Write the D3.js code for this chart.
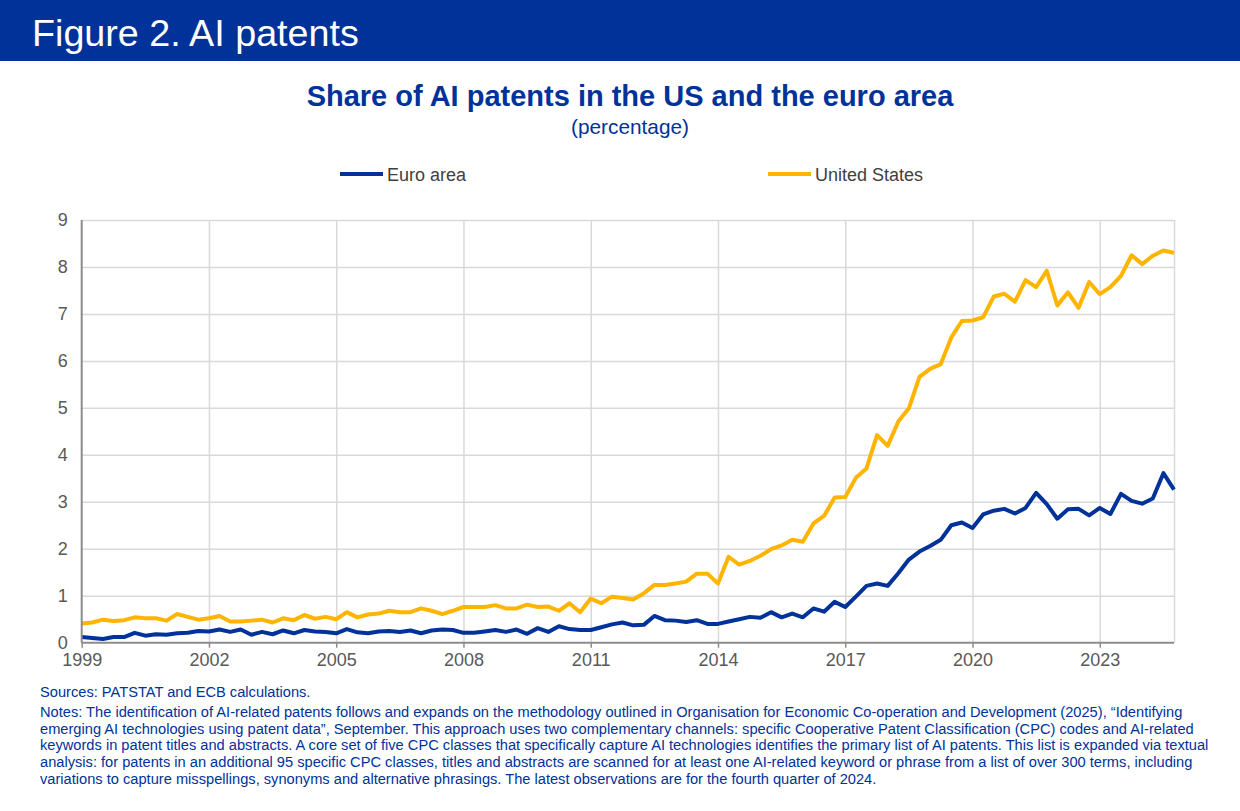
<!DOCTYPE html>
<html>
<head>
<meta charset="utf-8">
<script src="https://cdn.jsdelivr.net/npm/d3@7"></script>
<style>
  body { margin: 0; background: #fff; }
  svg { display: block; font-family: "Liberation Sans", Arial, sans-serif; }
</style>
</head>
<body>
<svg id="chart" width="1240" height="811"></svg>
<script>
"use strict";

// Quarterly observations, 1999 Q1 to 2024 Q4 (percentage)
var firstYear = 1999;
var euroArea = [
  0.12, 0.10, 0.08, 0.12,  0.12, 0.21, 0.15, 0.18,  0.17, 0.20, 0.21, 0.25,
  0.24, 0.28, 0.23, 0.28,  0.17, 0.23, 0.18, 0.26,  0.20, 0.27, 0.24, 0.23,
  0.20, 0.29, 0.22, 0.20,  0.24, 0.25, 0.23, 0.26,  0.20, 0.26, 0.28, 0.27,
  0.21, 0.21, 0.24, 0.27,  0.23, 0.28, 0.19, 0.31,  0.23, 0.35, 0.29, 0.27,
  0.27, 0.33, 0.39, 0.43,  0.37, 0.38, 0.57, 0.48,  0.47, 0.44, 0.48, 0.40,
  0.40, 0.45, 0.50, 0.55,  0.53, 0.65, 0.54, 0.62,  0.54, 0.73, 0.66, 0.87,
  0.76, 0.98, 1.21, 1.26,  1.21, 1.48, 1.77, 1.94,  2.06, 2.19, 2.50, 2.56,
  2.44, 2.73, 2.81, 2.85,  2.75, 2.87, 3.19, 2.95,  2.64, 2.84, 2.85, 2.71,
  2.87, 2.74, 3.17, 3.02,  2.96, 3.07, 3.61, 3.26
];
var unitedStates = [
  0.41, 0.43, 0.49, 0.46,  0.48, 0.54, 0.52, 0.52,  0.47, 0.61, 0.55, 0.49,
  0.52, 0.57, 0.45, 0.45,  0.47, 0.49, 0.43, 0.52,  0.48, 0.59, 0.51, 0.55,
  0.50, 0.65, 0.54, 0.60,  0.62, 0.68, 0.65, 0.65,  0.73, 0.68, 0.61, 0.68,
  0.76, 0.76, 0.76, 0.80,  0.73, 0.73, 0.81, 0.76,  0.77, 0.68, 0.84, 0.65,
  0.94, 0.84, 0.98, 0.95,  0.92, 1.05, 1.23, 1.23,  1.26, 1.30, 1.47, 1.47,
  1.26, 1.83, 1.66, 1.74,  1.85, 1.99, 2.07, 2.19,  2.15, 2.54, 2.70, 3.09,
  3.10, 3.51, 3.71, 4.42,  4.19, 4.71, 4.99, 5.66,  5.83, 5.93, 6.50, 6.85,
  6.86, 6.93, 7.37, 7.43,  7.26, 7.72, 7.57, 7.92,  7.18, 7.46, 7.13, 7.68,
  7.42, 7.57, 7.81, 8.25,  8.06, 8.24, 8.35, 8.30
];
var seriesNames = ["Euro area", "United States"];
var xTicks = [1999, 2002, 2005, 2008, 2011, 2014, 2017, 2020, 2023];
var yTicks = [0, 1, 2, 3, 4, 5, 6, 7, 8, 9];

var figureTitle = "Figure 2. AI patents";
var chartTitle = "Share of AI patents in the US and the euro area";
var chartUnit = "(percentage)";
var footLines = [
  "Sources: PATSTAT and ECB calculations.",
  "Notes: The identification of AI-related patents follows and expands on the methodology outlined in Organisation for Economic Co-operation and Development (2025), \u201cIdentifying",
  "emerging AI technologies using patent data\u201d, September. This approach uses two complementary channels: specific Cooperative Patent Classification (CPC) codes and AI-related",
  "keywords in patent titles and abstracts. A core set of five CPC classes that specifically capture AI technologies identifies the primary list of AI patents. This list is expanded via textual",
  "analysis: for patents in an additional 95 specific CPC classes, titles and abstracts are scanned for at least one AI-related keyword or phrase from a list of over 300 terms, including",
  "variations to capture misspellings, synonyms and alternative phrasings. The latest observations are for the fourth quarter of 2024."
];

var ecbBlue = "#003299";
var ecbYellow = "#ffb400";
var colors = [ecbBlue, ecbYellow];

var svg = d3.select("#chart");

// Bandeau du titre
svg.append("rect")
  .attr("x", 0).attr("y", 0)
  .attr("width", 1240).attr("height", 61)
  .attr("fill", ecbBlue);
svg.append("text")
  .attr("x", 32).attr("y", 46)
  .attr("fill", "white")
  .style("font-size", "37.7px")
  .text(figureTitle);

svg.append("text")
  .attr("x", 630).attr("y", 106)
  .attr("text-anchor", "middle")
  .attr("fill", ecbBlue)
  .style("font-size", "29px")
  .style("font-weight", "bold")
  .text(chartTitle);
svg.append("text")
  .attr("x", 630).attr("y", 134)
  .attr("text-anchor", "middle")
  .attr("fill", ecbBlue)
  .style("font-size", "20.8px")
  .text(chartUnit);

// Échelles
var plotLeft = 81.7, plotRight = 1174, plotTop = 220, plotBottom = 642.7;
var x = d3.scaleLinear().domain([1999, 2024.75]).range([plotLeft, plotRight]);
var y = d3.scaleLinear().domain([0, 9]).range([plotBottom, plotTop]);

// Grille
var grid = svg.append("g").attr("class", "grid");
grid.append("g")
  .attr("transform", "translate(" + plotLeft + ",0)")
  .call(d3.axisLeft(y).tickValues(yTicks.slice(1)).tickSize(-(plotRight - plotLeft)).tickFormat(""))
  .call(function (g) { g.select(".domain").remove(); });
grid.append("g")
  .attr("transform", "translate(0," + plotBottom + ")")
  .call(d3.axisBottom(x).tickValues(xTicks.slice(1).concat([2024.75])).tickSize(-(plotBottom - plotTop)).tickFormat(""))
  .call(function (g) { g.select(".domain").remove(); });
grid.selectAll("line")
  .attr("stroke", "#d9d9d9")
  .attr("stroke-width", 1.5);

// Séries
var lineGen = d3.line()
  .x(function (d, i) { return x(firstYear + i / 4); })
  .y(function (d) { return y(d); });

[euroArea, unitedStates].forEach(function (values, k) {
  svg.append("path")
    .datum(values)
    .attr("fill", "none")
    .attr("stroke", colors[k])
    .attr("stroke-width", 4)
    .attr("stroke-linejoin", "round")
    .attr("d", lineGen);
});

// Axes
var yAxis = svg.append("g")
  .attr("transform", "translate(" + plotLeft + ",0)")
  .call(d3.axisLeft(y).tickValues(yTicks).tickSize(0).tickPadding(14));
var xAxis = svg.append("g")
  .attr("transform", "translate(0," + plotBottom + ")")
  .call(d3.axisBottom(x).tickValues(xTicks).tickSize(5).tickPadding(6).tickFormat(d3.format("d")));
xAxis.select(".domain").attr("d", "M" + plotLeft + ",0H" + plotRight);
yAxis.select(".domain").attr("d", "M0," + plotTop + "V" + plotBottom);
[xAxis, yAxis].forEach(function (a) {
  a.select(".domain").attr("stroke", "#8c8c8c").attr("stroke-width", 2);
  a.selectAll(".tick line").attr("stroke", "#8c8c8c").attr("stroke-width", 1.5);
  a.selectAll("text")
    .attr("fill", "#595959")
    .style("font-size", "18px")
    .style("font-family", "\"Liberation Sans\", Arial, sans-serif");
});

// Légende
var legendPos = [340, 768];
var legend = svg.append("g").attr("class", "legend");
legend.selectAll("line")
  .data(seriesNames).enter()
  .append("line")
  .attr("x1", function (d, i) { return legendPos[i]; })
  .attr("x2", function (d, i) { return legendPos[i] + 43; })
  .attr("y1", 174).attr("y2", 174)
  .attr("stroke", function (d, i) { return colors[i]; })
  .attr("stroke-width", 4);
legend.selectAll("text")
  .data(seriesNames).enter()
  .append("text")
  .attr("x", function (d, i) { return legendPos[i] + 47; })
  .attr("y", 180.5)
  .attr("fill", "#404040")
  .style("font-size", "18px")
  .text(function (d) { return d; });

// Sources et notes
svg.append("g")
  .selectAll("text")
  .data(footLines).enter()
  .append("text")
  .attr("x", 40)
  .attr("y", function (d, i) { return i === 0 ? 697 : 700 + i * 16.8; })
  .attr("fill", ecbBlue)
  .style("font-size", "14.65px")
  .text(function (d) { return d; });
</script>
</body>
</html>
